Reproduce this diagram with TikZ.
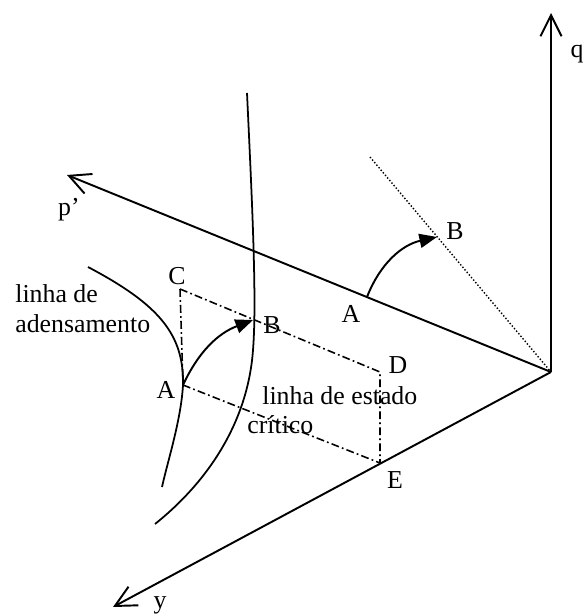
\documentclass[tikz,border=0pt]{standalone}
\usepackage{fontspec}
\setmainfont{Liberation Serif}
\usetikzlibrary{arrows.meta}

\tikzset{
  eixo/.style={line width=1.1pt, -{Straight Barb[length=12pt,width=12pt]}},
  curva/.style={line width=1pt},
  traco/.style={line width=0.9pt, dash pattern=on 4.5pt off 1.8pt on 1pt off 1.8pt},
  pontilhado/.style={line width=0.8pt, dash pattern=on 0.8pt off 1.1pt},
  seta/.style={line width=1.1pt, -{Triangle[length=10pt,width=8pt]}},
  rotulo/.style={inner sep=0pt, font=\fontsize{14.7}{17.6}\selectfont},
}

\begin{document}
\begin{tikzpicture}[x=0.02cm,y=-0.02cm]
\useasboundingbox (0,0) rectangle (586,614);
\coordinate (O) at (551,372);
\coordinate (Q) at (551,13);
\coordinate (P) at (67,175);
\coordinate (Y) at (113,607);
\coordinate (A1) at (183,385);
\coordinate (B1) at (253,320);
\coordinate (C) at (180,289);
\coordinate (D) at (380,372);
\coordinate (E) at (380,463);
\coordinate (A2) at (367,297);
\coordinate (B2) at (437,237);
\coordinate (T) at (370,157);
% eixos
\draw[eixo] (O) -- (Q);
\draw[eixo] (O) -- (P);
\draw[eixo] (O) -- (Y);
% linha de adensamento
\draw[curva] (88,267) .. controls (160,305) and (184,335) .. (A1)
  .. controls (181,420) and (168,460) .. (162,487);
% linha de estado critico
\draw[curva] (247,93) .. controls (252,200) and (257,300) .. (253,350)
  .. controls (248,420) and (210,480) .. (155,524);
% trajetoria
\draw[traco] (C) -- (D) -- (E) -- (A1) -- cycle;
\draw[pontilhado] (T) -- (O);
\draw[seta] (A1) to[bend left=22] (B1);
\draw[seta] (A2) to[bend left=28] (B2);
% rotulos
\node[rotulo, anchor=base] (lq) at (577,58) {q};
\node[rotulo, anchor=base] (lp) at (69,216) {p’};
\node[rotulo, anchor=base] (ly) at (160,608) {y};
\node[rotulo, anchor=base] (lb2) at (455,240) {B};
\node[rotulo, anchor=base] (la2) at (351,322) {A};
\node[rotulo, anchor=base] (lc) at (177,285) {C};
\node[rotulo, anchor=base] (lb1) at (272,333) {B};
\node[rotulo, anchor=base] (la1) at (166,398) {A};
\node[rotulo, anchor=base] (ld) at (398,373) {D};
\node[rotulo, anchor=base] (le) at (395,488) {E};
\node[rotulo, anchor=base west] (adens1) at (15,302) {linha de};
\node[rotulo, anchor=base west] (adens2) at (15,332) {adensamento};
\node[rotulo, anchor=base west] (crit1) at (262,404) {linha de estado};
\node[rotulo, anchor=base west] (crit2) at (247,433) {crítico};
\end{tikzpicture}
\end{document}
